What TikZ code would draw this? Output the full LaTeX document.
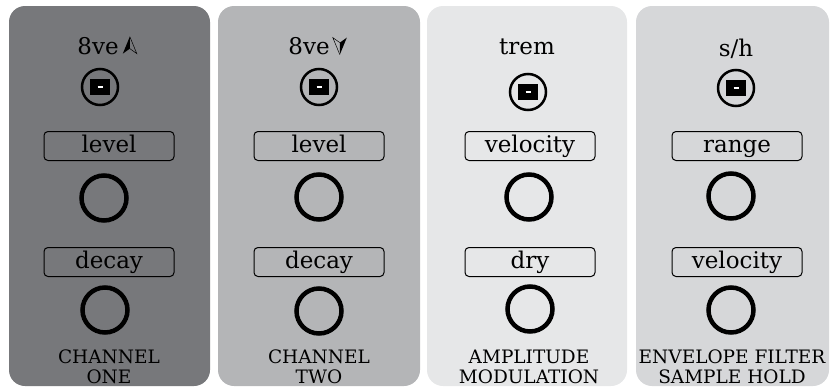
\documentclass[tikz,border=0pt]{standalone}
\usepackage{fontspec}
\setmainfont{DejaVu Serif}
\usetikzlibrary{positioning}
\definecolor{chonegray}{HTML}{77787B}
\definecolor{chtwogray}{HTML}{B4B5B7}
\definecolor{ampgray}{HTML}{E6E7E8}
\definecolor{envgray}{HTML}{D6D7D9}
\tikzset{
  panel/.style={rounded corners=16pt},
  switchring/.style={circle,draw,line width=2.5pt,minimum size=36pt,inner sep=0pt},
  switchkey/.style={fill=black,minimum width=20pt,minimum height=16pt,inner sep=0pt},
  knob/.style={circle,draw,line width=4.5pt,minimum size=45pt,inner sep=0pt},
  labelbox/.style={draw,rounded corners=4pt,line width=1pt,minimum width=130pt,
    minimum height=29pt,inner sep=0pt,text height=17pt,text depth=5pt,
    font=\fontsize{23}{24}\selectfont},
  toplabel/.style={anchor=base,inner sep=0pt,font=\fontsize{23}{24}\selectfont},
  bottomlabel/.style={align=center,inner sep=0pt,font=\fontsize{18.5}{20}\selectfont}
}
\newcommand{\keydash}{{\color{white}\rule{5pt}{1.2pt}}}

\begin{document}
\begin{tikzpicture}[x=1pt,y=-1pt]
\useasboundingbox (0,0) rectangle (830,388);
% panels
\fill[chonegray,panel] (9,6) rectangle (210,386);
\fill[chtwogray,panel] (218,6) rectangle (420,386);
\fill[ampgray,panel] (427,6) rectangle (627,386);
\fill[envgray,panel] (636,6) rectangle (829,386);
% channel one
\node[toplabel] (p1top) at (98,54) {8ve};
\coordinate[right=11pt of p1top.east] (p1arr);
\fill (p1arr) ++(0,-9) -- ++(-7,17) -- ++(7,-5) -- cycle;
\draw[line width=0.5pt] (p1arr) ++(0,-9) -- ++(7,17) -- ++(-7,-5);
\node[switchring] (p1sw) at (100,87) {};
\node[switchkey] (p1key) at (p1sw) {\keydash};
\node[labelbox] (p1lev) at (109,146) {level};
\node[knob] (p1knoba) at (104,198) {};
\node[labelbox] (p1dec) at (109,262) {decay};
\node[knob] (p1knobb) at (105,310) {};
\node[bottomlabel] (p1name) at (109,366.5) {CHANNEL\\ONE};
% channel two
\node[toplabel] (p2top) at (309,54) {8ve};
\coordinate[right=10pt of p2top.east] (p2arr);
\fill (p2arr) ++(0,9) -- ++(7,-17) -- ++(-7,5) -- cycle;
\draw[line width=0.5pt] (p2arr) ++(0,9) -- ++(-7,-17) -- ++(7,5);
\node[switchring] (p2sw) at (319,87) {};
\node[switchkey] (p2key) at (p2sw) {\keydash};
\node[labelbox] (p2lev) at (319,146) {level};
\node[knob] (p2knoba) at (319,197) {};
\node[labelbox] (p2dec) at (319,262) {decay};
\node[knob] (p2knobb) at (319,311) {};
\node[bottomlabel] (p2name) at (319,366.5) {CHANNEL\\TWO};
% amplitude modulation
\node[toplabel] (p3top) at (527,54) {trem};
\node[switchring] (p3sw) at (528,92) {};
\node[switchkey] (p3key) at (p3sw) {\keydash};
\node[labelbox] (p3vel) at (530,146) {velocity};
\node[knob] (p3knoba) at (529,197) {};
\node[labelbox] (p3dry) at (530,262) {dry};
\node[knob] (p3knobb) at (530,309) {};
\node[bottomlabel] (p3name) at (529,366.5) {AMPLITUDE\\MODULATION};
% envelope filter
\node[toplabel] (p4top) at (736,56) {s/h};
\node[switchring] (p4sw) at (736,88) {};
\node[switchkey] (p4key) at (p4sw) {\keydash};
\node[labelbox] (p4rng) at (737,146) {range};
\node[knob] (p4knoba) at (731,196) {};
\node[labelbox] (p4vel) at (737,262) {velocity};
\node[knob] (p4knobb) at (731,310) {};
\node[bottomlabel] (p4name) at (732,366.5) {ENVELOPE FILTER\\SAMPLE HOLD};
\end{tikzpicture}
\end{document}
